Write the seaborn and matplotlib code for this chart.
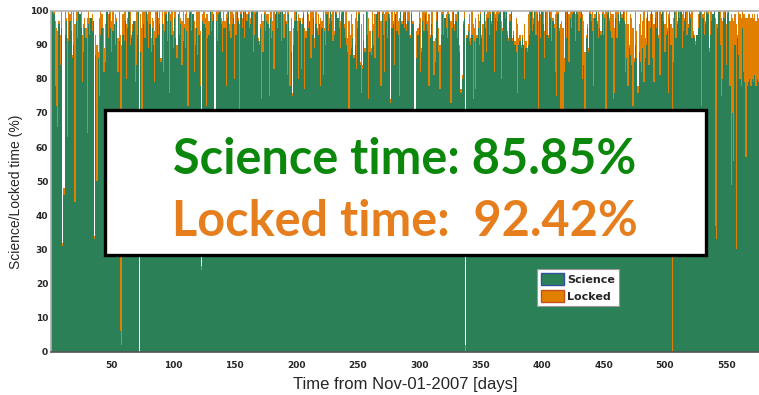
import numpy as np
import pandas as pd
import seaborn as sns
import matplotlib
matplotlib.use("Agg")
import matplotlib.pyplot as plt
from matplotlib.patches import Patch, Rectangle

# Daily duty cycle (%) since Nov-01-2007
science = [
    100,100,99,78,72,66,96,84,95,31,46,93,97,63,91,97,
    94,86,90,44,97,92,100,99,95,79,88,95,92,64,96,93,
    98,94,97,33,87,50,86,75,93,95,82,82,85,100,92,99,
    95,88,94,96,90,97,82,91,6,2,93,91,97,80,95,100,
    90,92,94,97,79,84,93,100,88,68,71,96,92,100,97,89,
    96,88,95,90,79,92,100,93,96,85,96,82,94,99,91,100,
    76,97,93,89,98,92,86,99,93,96,84,91,95,89,94,72,
    99,100,94,99,82,90,95,87,93,78,24,97,96,95,72,92,
    93,100,94,97,99,50,97,91,99,100,96,88,95,95,78,98,
    100,94,92,96,98,80,93,100,97,30,99,95,100,92,100,97,
    99,95,96,100,88,93,99,100,91,90,95,74,88,99,94,97,
    96,75,98,92,94,83,99,100,95,99,100,91,100,92,97,96,
    81,99,78,88,75,90,97,100,94,80,97,83,96,99,77,92,
    100,95,97,86,93,98,89,96,94,93,96,78,95,81,94,90,
    99,94,96,100,97,91,93,100,99,98,95,89,99,100,95,92,
    90,88,70,87,89,92,86,90,83,95,99,84,76,83,91,88,
    100,93,74,88,87,94,90,86,99,100,92,100,78,99,93,82,
    97,92,99,98,73,95,96,84,99,94,93,75,100,96,99,95,
    100,94,97,93,92,99,96,48,45,86,93,96,82,88,97,94,
    99,96,94,78,92,96,93,81,85,97,100,88,77,93,99,93,
    98,95,92,99,98,73,95,100,94,97,92,100,88,76,80,96,
    98,0,92,94,91,90,93,74,91,77,92,95,90,99,92,85,
    100,95,88,98,93,99,96,100,82,98,94,97,99,100,80,94,
    100,98,100,93,91,97,100,91,93,90,88,76,90,91,89,92,
    90,80,89,88,90,93,100,94,96,100,93,99,70,100,92,100,
    96,86,100,93,92,100,98,91,97,95,82,75,99,94,60,55,
    70,82,100,92,100,85,98,95,99,100,91,100,99,94,98,100,
    80,84,45,92,95,88,99,97,94,78,98,100,96,92,95,93,
    99,93,98,70,99,100,97,94,92,74,76,98,92,99,96,100,
    98,100,97,82,86,78,89,87,84,72,85,90,86,76,88,85,
    82,89,79,86,90,99,84,95,100,86,79,98,95,100,92,81,
    99,100,97,88,93,94,76,98,90,0,85,100,92,96,100,98,
    100,89,94,97,100,93,95,100,98,92,93,92,90,93,95,99,
    100,72,98,93,96,100,99,88,93,97,99,100,37,33,95,100,
    90,75,80,98,100,84,99,100,78,49,70,56,90,30,92,87,
    80,78,95,82,79,57,78,79,80,78,80,79,81,78,80,79,
]
locked = [
    100,100,100,97,95,94,97,93,100,32,48,100,98,92,100,99,
    100,87,100,96,100,100,100,99,100,93,96,98,95,98,100,98,
    98,99,97,34,93,90,88,98,100,99,95,89,96,100,99,100,
    100,97,100,96,99,98,92,100,93,90,99,100,100,96,98,100,
    100,93,96,97,97,100,100,100,99,95,100,100,100,100,99,100,
    100,92,98,97,94,100,100,98,100,86,100,96,100,100,97,100,
    100,99,100,94,100,100,90,99,100,98,97,100,96,99,100,98,
    100,100,100,99,97,95,100,100,100,94,25,99,100,98,99,99,
    97,100,100,100,99,52,100,100,100,100,98,97,100,97,99,100,
    100,96,100,100,99,96,100,100,98,96,100,98,100,100,100,99,
    100,100,98,100,100,100,100,100,92,91,96,99,97,100,100,99,
    99,95,100,100,97,100,99,100,100,100,100,100,100,99,100,97,
    100,100,94,98,76,95,100,100,97,99,98,96,98,100,95,94,
    100,99,97,100,100,100,92,100,95,99,96,98,97,100,95,100,
    100,100,98,100,99,100,94,100,100,98,100,97,100,100,96,100,
    100,92,97,93,99,96,87,98,100,97,100,85,96,84,99,89,
    100,100,98,94,89,100,96,99,99,100,100,100,97,100,100,99,
    100,100,100,99,74,100,97,100,99,100,97,98,100,97,100,100,
    100,96,100,100,93,100,97,50,46,94,95,100,98,89,100,100,
    100,100,97,99,93,100,100,91,92,100,100,95,90,100,100,100,
    98,99,100,100,99,97,100,100,96,99,100,100,90,77,81,97,
    100,2,93,96,99,92,100,96,95,98,93,99,97,100,93,96,
    100,97,99,100,100,100,97,100,100,99,100,100,100,100,97,95,
    100,100,100,94,92,99,100,92,94,91,98,96,92,93,90,93,
    90,96,91,89,99,100,100,100,98,100,100,100,97,100,99,100,
    100,94,100,100,93,100,100,100,98,96,99,100,100,95,96,97,
    95,86,100,100,100,99,100,100,100,100,99,100,100,100,100,100,
    99,97,88,93,96,89,100,99,100,98,99,100,97,100,99,94,
    100,100,99,100,100,100,98,100,99,99,95,100,100,100,97,100,
    99,100,100,96,100,96,90,99,98,95,86,100,94,78,96,99,
    93,97,100,92,98,100,97,99,100,99,96,100,100,100,93,100,
    99,100,100,96,100,95,99,100,96,95,98,100,100,97,100,100,
    100,99,100,98,100,100,96,100,99,100,94,93,91,93,99,100,
    100,100,99,100,97,100,100,89,100,100,99,100,98,96,96,100,
    100,98,97,100,100,96,100,100,97,99,98,97,99,96,93,100,
    99,98,100,99,99,98,98,99,99,98,99,98,99,97,99,98,
]
days = list(range(1, len(science) + 1))

x_ticks = [50, 100, 150, 200, 250, 300, 350, 400, 450, 500, 550]
y_ticks = [0, 10, 20, 30, 40, 50, 60, 70, 80, 90, 100]
series_names = ["Science", "Locked"]
summary_lines = ["Science time: 85.85%", "Locked time:  92.42%"]

GREEN = "#2b8057"
ORANGE = "#e07f00"

df = pd.DataFrame({"day": days, "science": science, "locked": locked})

sns.set_style("white")
plt.rcParams["font.family"] = ["DejaVu Sans"]

fig = plt.figure(figsize=(7.59, 3.95), dpi=100)
ax = fig.add_axes([51 / 759, 1 - 351.7 / 395, 708 / 759, 341 / 395])

# Locked time behind, science time in front; aliased bars tile without seams
sns.barplot(data=df, x="day", y="locked", native_scale=True, color=ORANGE,
            saturation=1, width=1.0, linewidth=0, errorbar=None, ax=ax)
sns.barplot(data=df, x="day", y="science", native_scale=True, color=GREEN,
            saturation=1, width=1.0, linewidth=0, errorbar=None, ax=ax)
for bar in ax.patches:
    bar.set_antialiased(False)

ax.set_xlim(0.5, 576.5)
ax.set_ylim(0, 100)
ax.set_xticks(x_ticks)
ax.set_yticks(y_ticks)
ax.tick_params(length=0, labelsize=6.5)
ax.tick_params(axis="x", pad=7)
ax.tick_params(axis="y", pad=2)
for lab in ax.get_xticklabels() + ax.get_yticklabels():
    lab.set_fontweight("bold")
ax.set_xlabel("Time from Nov-01-2007 [days]", family="Liberation Sans",
              fontsize=12, labelpad=5)
ax.set_ylabel("Science/Locked time (%)", family="Liberation Sans", fontsize=10)
ax.yaxis.set_label_coords(-0.04, 0.468)
ax.grid(False)
for side in ["top", "left"]:
    ax.spines[side].set_color("#b0b0b0")
    ax.spines[side].set_linewidth(1.2)
ax.spines["bottom"].set_color("#555555")
ax.spines["bottom"].set_linewidth(1.2)
ax.spines["right"].set_visible(False)

handles = [Patch(facecolor=GREEN, edgecolor="#2f4fa0", linewidth=1, label=series_names[0]),
           Patch(facecolor=ORANGE, edgecolor="#c8501a", linewidth=1, label=series_names[1])]
leg = ax.legend(handles=handles, loc="upper left", bbox_to_anchor=(0.686, 0.243),
                borderaxespad=0, fancybox=False, framealpha=1, edgecolor="#999999",
                prop={"weight": "bold", "size": 8}, handlelength=2.1,
                handleheight=1.3, handletextpad=0.3, borderpad=0.35,
                labelspacing=0.45)
leg.get_frame().set_linewidth(0.8)

# Summary box
box = Rectangle((0.0763, 0.2836), 0.925 - 0.0763, 0.709 - 0.2836,
                transform=ax.transAxes, facecolor="white", edgecolor="black",
                linewidth=2.4, zorder=10)
ax.add_patch(box)
ax.text(0.5, 0.521, summary_lines[0], transform=ax.transAxes, ha="center",
        va="baseline", color="#0b870b", fontsize=35, fontweight="bold",
        family="Lato", zorder=11)
ax.text(0.5, 0.339, summary_lines[1], transform=ax.transAxes, ha="center",
        va="baseline", color="#e67e1e", fontsize=35, fontweight="bold",
        family="Lato", zorder=11)

fig.savefig("out.png", dpi=100)
